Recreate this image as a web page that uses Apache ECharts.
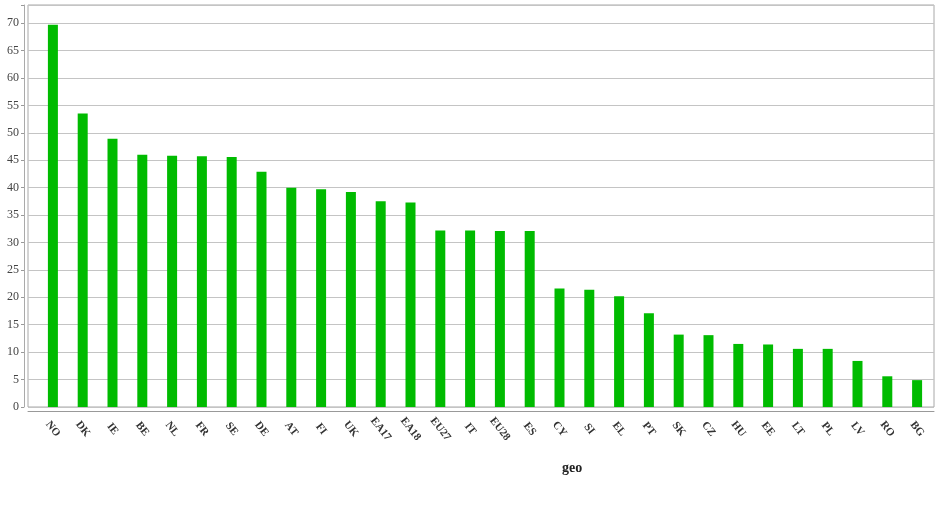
<!DOCTYPE html>
<html>
<head>
<meta charset="utf-8">
<title>geo</title>
<script src="https://cdn.jsdelivr.net/npm/echarts@6/dist/echarts.min.js"></script>
<style>
  html, body { margin: 0; padding: 0; background: #fff; }
  #container { width: 935px; height: 518px; }
</style>
</head>
<body>
<div id="container"></div>
<script>
// data
var geo = ['NO','DK','IE','BE','NL','FR','SE','DE','AT','FI','UK','EA17','EA18','EU27','IT','EU28','ES',
           'CY','SI','EL','PT','SK','CZ','HU','EE','LT','PL','LV','RO','BG'];
var values = [69.7, 53.5, 48.9, 46.0, 45.8, 45.7, 45.6, 42.9, 40.0, 39.7, 39.2, 37.5, 37.3, 32.2, 32.2, 32.1, 32.1,
              21.6, 21.4, 20.2, 17.1, 13.2, 13.1, 11.5, 11.4, 10.6, 10.6, 8.4, 5.6, 4.9];
var yTicks = [0, 5, 10, 15, 20, 25, 30, 35, 40, 45, 50, 55, 60, 65, 70];
var yMax = 73.3;

var serif = '"Liberation Serif", "DejaVu Serif", serif';
var myChart = echarts.init(document.getElementById('container'));
var option = {
    animation: false,
    title: {
        text: 'geo',
        left: 557, top: 456,
        textStyle: { fontFamily: serif, fontSize: 14, fontWeight: 'bold', color: '#222' }
    },
    // grid 0: frame + gridlines + value axis, grid 1: the bars and categories
    grid: [
        { left: 28, right: 1, top: 5, bottom: 111, show: true, borderColor: '#a8a8a8', borderWidth: 1 },
        { left: 38, right: 3, top: 5, bottom: 111 }
    ],
    xAxis: [
        {
            gridIndex: 0, type: 'value', min: 0, max: 1, offset: 4,
            axisLine: { show: true, onZero: false, lineStyle: { color: '#999', width: 1 } },
            axisTick: { show: false }, axisLabel: { show: false }, splitLine: { show: false }
        },
        {
            gridIndex: 1, type: 'category', data: geo, offset: 4,
            axisLine: { show: false, onZero: false },
            axisTick: { alignWithLabel: true, length: 4, lineStyle: { color: '#888' } },
            axisLabel: {
                rotate: -52, margin: 18, align: 'center', verticalAlign: 'middle',
                interval: 0, fontFamily: serif, fontSize: 11, fontWeight: 'bold', color: '#333'
            }
        }
    ],
    yAxis: [
        {
            gridIndex: 0, type: 'value', min: 0, max: yMax, interval: 5, offset: 4,
            axisLine: { show: true, onZero: false, lineStyle: { color: '#aaa', width: 1 } },
            axisTick: { show: true, length: 3, lineStyle: { color: '#999' } },
            axisLabel: {
                margin: 5, fontFamily: serif, fontSize: 12, color: '#444',
                formatter: function (v) { return yTicks.indexOf(v) >= 0 ? String(v) : ''; }
            },
            splitLine: { lineStyle: { color: '#c4c4c4', width: 1 } }
        },
        {
            gridIndex: 1, type: 'value', min: 0, max: yMax, show: false
        }
    ],
    series: [{
        name: 'geo',
        type: 'bar',
        xAxisIndex: 1, yAxisIndex: 1,
        data: values,
        barWidth: 10,
        itemStyle: { color: '#00bb00' }
    }]
};
myChart.setOption(option);
</script>
</body>
</html>
